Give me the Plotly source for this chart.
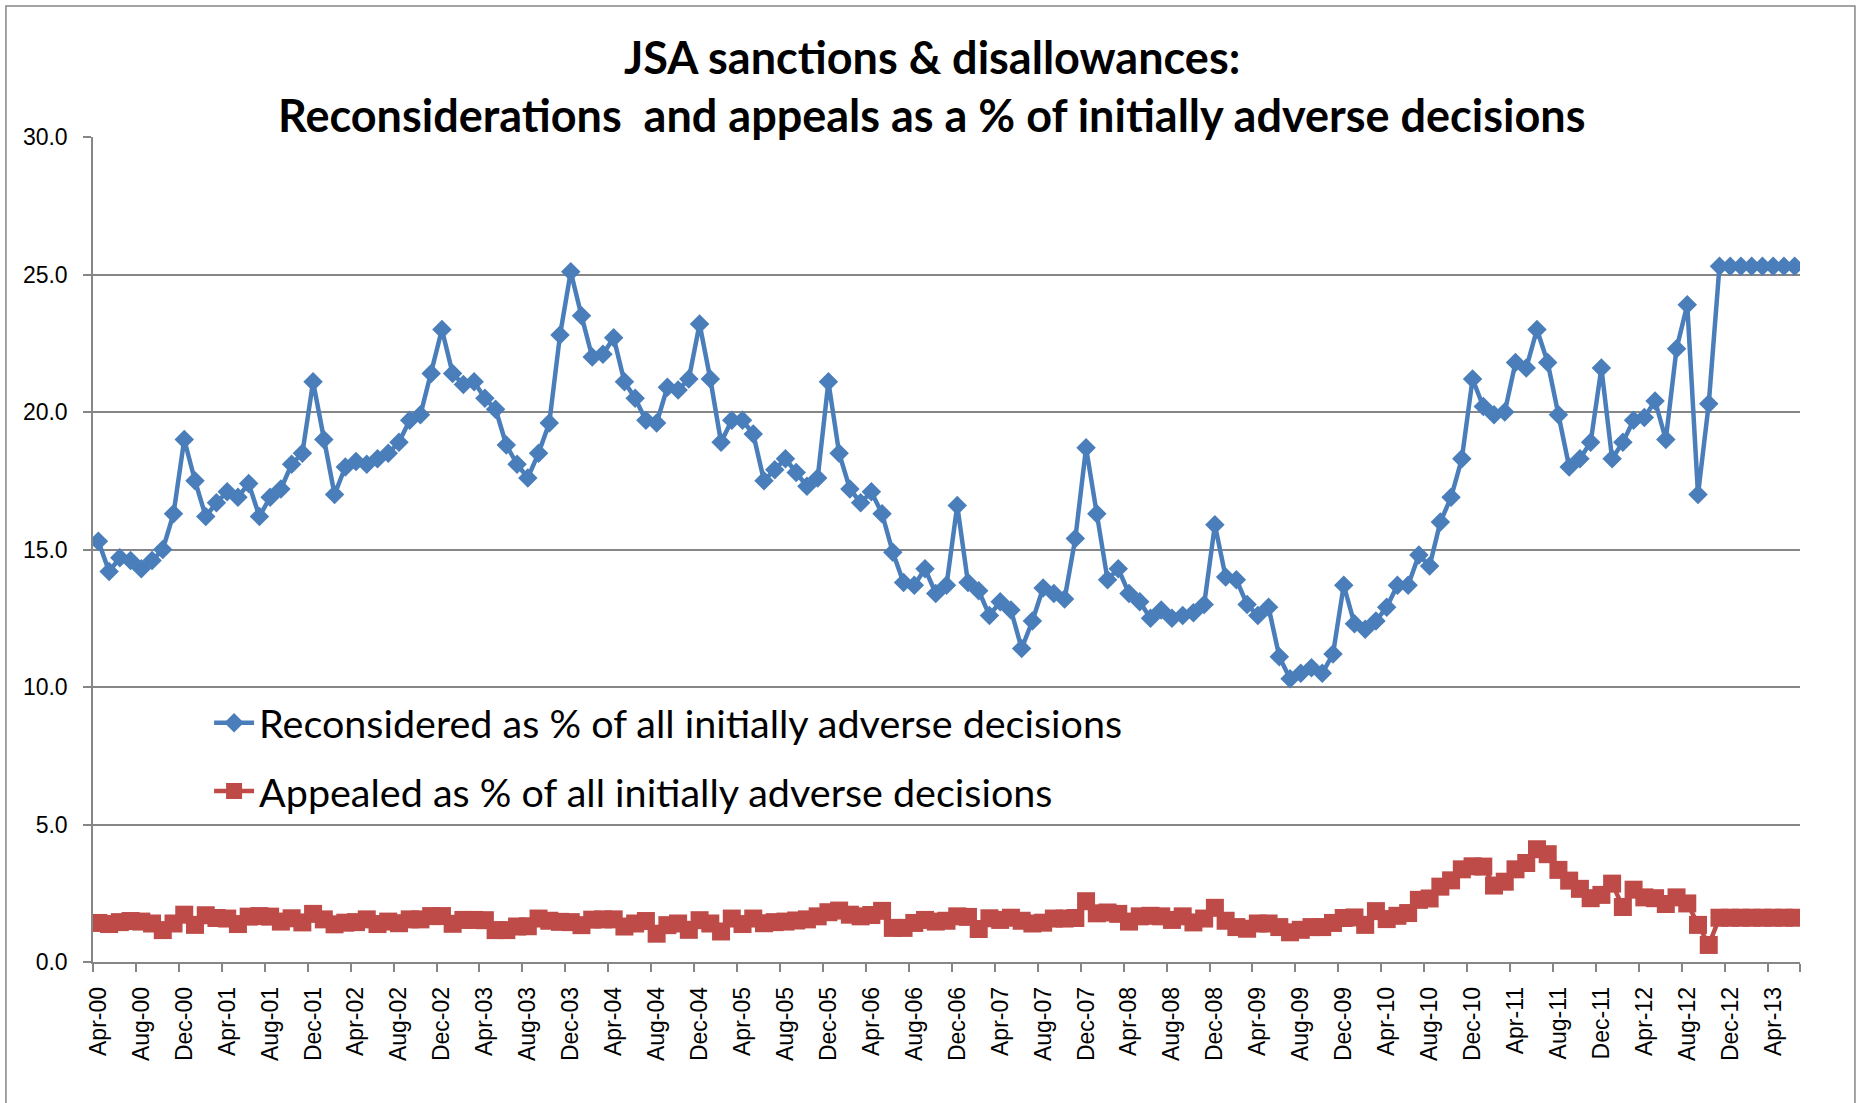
import plotly.graph_objects as go

months = ["Jan", "Feb", "Mar", "Apr", "May", "Jun", "Jul", "Aug", "Sep", "Oct", "Nov", "Dec"]

# categories: monthly Apr-00 .. Jun-13
categories = []
y, m = 2000, 3
while (y, m) <= (2013, 5):
    categories.append(f"{months[m]}-{y % 100:02d}")
    m += 1
    if m == 12:
        m = 0
        y += 1

reconsidered = [
    15.3, 14.2, 14.7, 14.6, 14.3, 14.6, 15.0, 16.3, 19.0, 17.5,
    16.2, 16.7, 17.1, 16.9, 17.4, 16.2, 16.9, 17.2, 18.1, 18.5,
    21.1, 19.0, 17.0, 18.0, 18.2, 18.1, 18.3, 18.5, 18.9, 19.7,
    19.9, 21.4, 23.0, 21.4, 21.0, 21.1, 20.5, 20.1, 18.8, 18.1,
    17.6, 18.5, 19.6, 22.8, 25.1, 23.5, 22.0, 22.1, 22.7, 21.1,
    20.5, 19.7, 19.6, 20.9, 20.8, 21.2, 23.2, 21.2, 18.9, 19.7,
    19.7, 19.2, 17.5, 17.9, 18.3, 17.8, 17.3, 17.6, 21.1, 18.5,
    17.2, 16.7, 17.1, 16.3, 14.9, 13.8, 13.7, 14.3, 13.4, 13.7,
    16.6, 13.8, 13.5, 12.6, 13.1, 12.8, 11.4, 12.4, 13.6, 13.4,
    13.2, 15.4, 18.7, 16.3, 13.9, 14.3, 13.4, 13.1, 12.5, 12.8,
    12.5, 12.6, 12.7, 13.0, 15.9, 14.0, 13.9, 13.0, 12.6, 12.9,
    11.1, 10.3, 10.5, 10.7, 10.5, 11.2, 13.7, 12.3, 12.1, 12.4,
    12.9, 13.7, 13.7, 14.8, 14.4, 16.0, 16.9, 18.3, 21.2, 20.2,
    19.9, 20.0, 21.8, 21.6, 23.0, 21.8, 19.9, 18.0, 18.3, 18.9,
    21.6, 18.3, 18.9, 19.7, 19.8, 20.4, 19.0, 22.3, 23.9, 17.0,
    20.3, 25.3, 25.3, 25.3, 25.3, 25.3, 25.3, 25.3, 25.3,
]

appealed = [
    1.42, 1.38, 1.45, 1.49, 1.47, 1.40, 1.16, 1.40, 1.72, 1.35,
    1.70, 1.60, 1.58, 1.38, 1.65, 1.67, 1.65, 1.47, 1.59, 1.44,
    1.75, 1.55, 1.37, 1.43, 1.45, 1.55, 1.38, 1.47, 1.41, 1.55,
    1.55, 1.67, 1.67, 1.39, 1.53, 1.53, 1.52, 1.16, 1.16, 1.29,
    1.30, 1.58, 1.50, 1.46, 1.45, 1.34, 1.54, 1.55, 1.55, 1.29,
    1.40, 1.49, 1.03, 1.34, 1.40, 1.17, 1.52, 1.40, 1.11, 1.58,
    1.38, 1.58, 1.41, 1.45, 1.47, 1.51, 1.55, 1.66, 1.81, 1.87,
    1.72, 1.66, 1.71, 1.86, 1.24, 1.24, 1.42, 1.53, 1.47, 1.50,
    1.66, 1.64, 1.20, 1.59, 1.53, 1.61, 1.50, 1.40, 1.43, 1.58,
    1.58, 1.60, 2.21, 1.77, 1.80, 1.75, 1.47, 1.66, 1.68, 1.66,
    1.53, 1.66, 1.44, 1.58, 1.97, 1.50, 1.27, 1.21, 1.40, 1.40,
    1.27, 1.08, 1.17, 1.27, 1.27, 1.42, 1.60, 1.62, 1.35, 1.85,
    1.56, 1.68, 1.78, 2.26, 2.31, 2.74, 2.97, 3.37, 3.48, 3.47,
    2.78, 2.92, 3.37, 3.60, 4.10, 3.92, 3.35, 2.96, 2.66, 2.32,
    2.44, 2.85, 2.00, 2.63, 2.35, 2.32, 2.11, 2.35, 2.13, 1.35,
    0.62, 1.61, 1.61, 1.61, 1.61, 1.61, 1.61, 1.61, 1.61,
]

y_ticks = [0, 5, 10, 15, 20, 25, 30]

BLUE = "#4A7EBB"
RED = "#BE4B48"
GRID = "#868686"

x_idx = list(range(len(categories)))
tick_idx = x_idx[::4]
tick_txt = categories[::4]
boundaries = [i - 0.5 for i in tick_idx] + [len(categories) - 0.5]

fig = go.Figure()
fig.add_trace(go.Scatter(
    x=x_idx, y=reconsidered, mode="lines+markers",
    name="Reconsidered as % of all initially adverse decisions",
    line=dict(color=BLUE, width=4.5),
    marker=dict(symbol="diamond", size=15, color=BLUE, line=dict(width=0)),
    legendgroup="a",
))
fig.add_trace(go.Scatter(
    x=x_idx, y=appealed, mode="lines+markers",
    name="Appealed as % of all initially adverse decisions",
    line=dict(color=RED, width=4.5),
    marker=dict(symbol="square", size=18, color=RED, line=dict(width=0)),
    legendgroup="b",
))

fig.update_layout(
    width=1856, height=1103,
    margin=dict(l=93, r=56, t=137, b=141),
    paper_bgcolor="white", plot_bgcolor="white",
    font=dict(family="Liberation Sans, Arial, sans-serif", color="black"),
    showlegend=True,
    legend=dict(
        x=0.068, y=0.329, xanchor="left", yanchor="top",
        bgcolor="rgba(0,0,0,0)",
        font=dict(family="Lato, Calibri, sans-serif", size=39.5, color="black"),
        tracegroupgap=14,
        itemwidth=40,
    ),
    xaxis=dict(
        range=[-0.5, len(categories) - 0.5],
        tickmode="array", tickvals=tick_idx, ticktext=tick_txt,
        tickangle=-90, ticks="", showgrid=False, zeroline=False,
        showline=True, linecolor=GRID, linewidth=1.5,
        tickfont=dict(size=23, family="Liberation Sans, Arial, sans-serif"),
        ticklabelstandoff=14,
        minor=dict(tickmode="array", tickvals=boundaries, ticks="outside",
                   ticklen=8, tickcolor=GRID, tickwidth=1.5, showgrid=False),
    ),
    yaxis=dict(
        range=[0, 30], tickmode="array", tickvals=y_ticks,
        tickformat=".1f", ticks="outside", ticklen=8, tickcolor=GRID,
        tickwidth=1.5,
        showgrid=True, gridcolor=GRID, gridwidth=1.5,
        zeroline=False, showline=True, linecolor=GRID, linewidth=1.5,
        tickfont=dict(size=23, family="Liberation Sans, Arial, sans-serif"),
        ticklabelstandoff=11,
    ),
)

title_font = dict(family="Lato, Calibri, sans-serif", size=45, color="black", weight="bold")
fig.add_annotation(text="JSA sanctions & disallowances:", xref="paper", yref="paper",
                   x=0.4915, y=1.097, xanchor="center", yanchor="middle",
                   showarrow=False, font=title_font)
fig.add_annotation(text="Reconsiderations  and appeals as a % of initially adverse decisions",
                   xref="paper", yref="paper",
                   x=0.4915, y=1.027, xanchor="center", yanchor="middle",
                   showarrow=False, font=title_font)

# outer chart border
fig.add_shape(type="rect", xref="paper", yref="paper",
              x0=-0.051, x1=1.0322, y0=-0.2, y1=1.1588,
              line=dict(color=GRID, width=1.5), layer="below")

fig.write_html(
    "out.html",
    config={"displayModeBar": False},
    post_script="document.body.style.margin='0';document.body.style.overflow='hidden';",
)
